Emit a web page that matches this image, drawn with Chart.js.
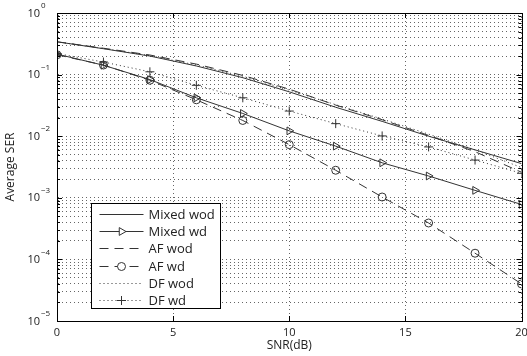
<!DOCTYPE html>
<html>
<head>
<meta charset="utf-8">
<script src="https://cdn.jsdelivr.net/npm/chart.js"></script>
<style>
  body { margin: 0; background: #fff; }
  canvas { display: block; }
</style>
</head>
<body>
<canvas id="serChart" width="527" height="356"></canvas>
<script>
// values (SNR in dB, average SER)
const snr = [0, 2, 4, 6, 8, 10, 12, 14, 16, 18, 20];
const mixedWod = [0.341, 0.263, 0.200, 0.138, 0.0891, 0.0525, 0.0295, 0.0174, 0.0100, 0.0060, 0.00359];
const mixedWd = [0.215, 0.142, 0.083, 0.042, 0.0234, 0.0122, 0.0069, 0.0037, 0.00226, 0.00132, 0.00078];
const afWod = [0.341, 0.268, 0.208, 0.148, 0.097, 0.058, 0.032, 0.0185, 0.0103, 0.0056, 0.0026];
const afWd = [0.21, 0.143, 0.081, 0.039, 0.018, 0.0073, 0.0028, 0.00103, 0.00039, 0.000126, 0.00004];
const dfWod = [0.34, 0.265, 0.203, 0.143, 0.094, 0.056, 0.0325, 0.019, 0.0108, 0.0060, 0.0031];
const dfWd = [0.22, 0.16, 0.111, 0.067, 0.042, 0.0256, 0.016, 0.0101, 0.0067, 0.0041, 0.0025];

const seriesNames = ["Mixed wod", "Mixed wd", "AF wod", "AF wd", "DF wod", "DF wd"];
const xTicks = [0, 5, 10, 15, 20];
const yExps = [-5, -4, -3, -2, -1, 0];

const lineColor = "#333";
const textColor = "#222";
const fontName = "'Open Sans', 'DejaVu Sans', sans-serif";

function toPoints(vals) {
    var pts = [];
    for (var i = 0; i < snr.length; i++) {
        pts.push({ x: snr[i], y: vals[i] });
    }
    return pts;
}

function makeSet(label, vals, dash, style, radius, rot) {
    return {
        label: label,
        data: toPoints(vals),
        borderColor: lineColor,
        backgroundColor: "rgba(0,0,0,0)",
        borderWidth: 1,
        borderDash: dash,
        pointStyle: style || "circle",
        pointRadius: style ? radius : 0,
        pointRotation: rot || 0,
        pointBorderColor: lineColor,
        pointBackgroundColor: "rgba(0,0,0,0)",
        pointBorderWidth: 1,
        tension: 0
    };
}

const datasets = [
    makeSet(seriesNames[0], mixedWod, [], null),
    makeSet(seriesNames[1], mixedWd, [], "triangle", 4.5, 90),
    makeSet(seriesNames[2], afWod, [9, 6], null),
    makeSet(seriesNames[3], afWd, [9, 6], "circle", 4),
    makeSet(seriesNames[4], dfWod, [1, 3], null),
    makeSet(seriesNames[5], dfWd, [1, 3], "cross", 4.5)
];

// matlab-ish frame, inward ticks, 10^n labels and boxed legend
const matlabBits = {
    id: "matlabBits",
    afterDraw(chart) {
        const ctx = chart.ctx;
        const a = chart.chartArea;
        const xs = chart.scales.x;
        const ys = chart.scales.y;
        ctx.save();
        ctx.setLineDash([]);
        ctx.strokeStyle = "#000";
        ctx.lineWidth = 1;
        ctx.strokeRect(Math.round(a.left) + 0.5, Math.round(a.top) + 0.5,
            Math.round(a.right - a.left), Math.round(a.bottom - a.top));

        ctx.beginPath();
        xTicks.forEach(function (v) {
            var px = Math.round(xs.getPixelForValue(v)) + 0.5;
            ctx.moveTo(px, a.bottom); ctx.lineTo(px, a.bottom - 5);
            ctx.moveTo(px, a.top); ctx.lineTo(px, a.top + 5);
        });
        ys.ticks.forEach(function (t) {
            var py = Math.round(ys.getPixelForValue(t.value)) + 0.5;
            var len = t.major ? 5 : 3;
            ctx.moveTo(a.left, py); ctx.lineTo(a.left + len, py);
            ctx.moveTo(a.right, py); ctx.lineTo(a.right - len, py);
        });
        ctx.stroke();

        // y labels with superscript exponents
        ctx.fillStyle = textColor;
        ctx.textBaseline = "middle";
        yExps.forEach(function (e) {
            var py = ys.getPixelForValue(Math.pow(10, e));
            ctx.font = "11px " + fontName;
            ctx.textAlign = "right";
            ctx.fillText("10", a.left - 17, py + 0.5);
            ctx.font = "8px " + fontName;
            ctx.textAlign = "left";
            ctx.fillText(e === 0 ? "0" : "\u2212" + (-e), a.left - 16, py - 7);
        });

        // legend box
        var bx = Math.round(a.left + 34) + 0.5;
        var bw = 129;
        var bh = 105;
        var by = Math.round(a.bottom - 13 - bh) + 0.5;
        ctx.fillStyle = "#fff";
        ctx.fillRect(bx, by, bw, bh);
        ctx.strokeStyle = "#000";
        ctx.strokeRect(bx, by, bw, bh);

        chart.data.datasets.forEach(function (ds, i) {
            var ry = Math.round(by + 10.5 + i * 17.2) + 0.5;
            ctx.strokeStyle = lineColor;
            ctx.setLineDash(ds.borderDash);
            ctx.beginPath();
            ctx.moveTo(bx + 8, ry);
            ctx.lineTo(bx + 52, ry);
            ctx.stroke();
            ctx.setLineDash([]);
            if (ds.pointRadius > 0) {
                ctx.fillStyle = "#fff";
                Chart.helpers.drawPoint(ctx, {
                    pointStyle: ds.pointStyle,
                    rotation: ds.pointRotation,
                    radius: ds.pointRadius,
                    borderWidth: 1
                }, bx + 30, ry);
            }
            ctx.fillStyle = textColor;
            ctx.font = "13px " + fontName;
            ctx.textAlign = "left";
            ctx.textBaseline = "middle";
            ctx.fillText(ds.label, bx + 57, ry + 0.5);
        });
        ctx.restore();
    }
};

new Chart(document.getElementById("serChart"), {
    type: "line",
    data: { datasets: datasets },
    options: {
        responsive: false,
        animation: false,
        devicePixelRatio: 1,
        layout: { padding: { top: 13, right: 5, left: 0, bottom: 0 } },
        plugins: {
            legend: { display: false },
            tooltip: { enabled: false }
        },
        scales: {
            x: {
                type: "linear",
                min: 0,
                max: 20,
                afterBuildTicks: function (scale) {
                    scale.ticks = xTicks.map(function (v) { return { value: v }; });
                },
                afterFit: function (scale) {
                    scale.height = 35;
                    scale.paddingLeft = 0;
                    scale.paddingRight = 0;
                },
                grid: { color: "#666", drawTicks: false },
                border: { color: "#000", dash: [1, 3] },
                ticks: {
                    padding: 5,
                    color: textColor,
                    font: { family: fontName, size: 11 },
                    maxRotation: 0
                },
                title: {
                    display: true,
                    text: "SNR(dB)",
                    color: textColor,
                    font: { family: fontName, size: 12 },
                    padding: { top: 0, bottom: 3 }
                }
            },
            y: {
                type: "logarithmic",
                min: 1e-5,
                max: 1,
                afterBuildTicks: function (scale) {
                    var t = [];
                    yExps.forEach(function (e) {
                        var top = e === 0 ? 1 : 9;
                        for (var m = 1; m <= top; m++) {
                            t.push({ value: m * Math.pow(10, e), major: m === 1 });
                        }
                    });
                    scale.ticks = t;
                },
                afterFit: function (scale) { scale.width = 57; },
                grid: { color: "#666", drawTicks: false },
                border: { color: "#000", dash: [1, 3] },
                ticks: { display: false },
                title: {
                    display: true,
                    text: "Average SER",
                    color: textColor,
                    font: { family: fontName, size: 12 },
                    padding: { top: 3, bottom: 0 }
                }
            }
        }
    },
    plugins: [matlabBits]
});
</script>
</body>
</html>
